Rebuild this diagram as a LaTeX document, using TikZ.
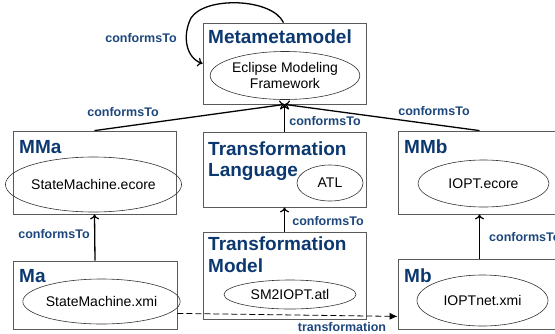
\documentclass[tikz,border=0pt]{standalone}
\usepackage{fontspec}
\setmainfont{Liberation Sans}
\usetikzlibrary{shapes.geometric,arrows.meta}
\definecolor{ttl}{RGB}{12,56,112}
\definecolor{lbl}{RGB}{28,70,124}
\definecolor{edge}{RGB}{90,90,90}
\tikzset{
  box/.style={draw=edge,line width=0.8pt,inner sep=0pt},
  ell/.style={draw=black!80,ellipse,line width=0.6pt,inner sep=0pt,font=\fontsize{14}{16}\selectfont,align=center},
  ttltext/.style={anchor=base west,inner sep=0pt,text=ttl,font=\fontsize{19}{22}\selectfont\bfseries},
  lab/.style={inner sep=0pt,text=lbl,font=\fontsize{12.5}{14}\selectfont\bfseries},
  conf/.style={line width=1.3pt,-{To[length=5pt,width=9pt,line width=1.2pt]}},
  trans/.style={line width=0.8pt,dashed,dash pattern=on 6pt off 3pt,-{Latex[length=8pt,width=7pt]}}
}
\begin{document}
\begin{tikzpicture}[x=1pt,y=-1pt]
\useasboundingbox (0,0) rectangle (555,333);
% boxes
\node[box,minimum width=163pt,minimum height=81pt] (mmm) at (284.5,63.5) {};
\node[box,minimum width=163pt,minimum height=83pt] (mma) at (94.5,172.5) {};
\node[box,minimum width=163pt,minimum height=75pt] (tl) at (284.5,169.5) {};
\node[box,minimum width=163pt,minimum height=83pt] (mmb) at (479.5,172.5) {};
\node[box,minimum width=164pt,minimum height=68pt] (ma) at (95,295) {};
\node[box,minimum width=163pt,minimum height=87pt] (tm) at (284.5,275.5) {};
\node[box,minimum width=163pt,minimum height=70pt] (mb) at (479.5,294) {};
% titles
\node[ttltext] (tmmm) at (208,43) {Metametamodel};
\node[ttltext] (tmma) at (19,153) {MMa};
\node[ttltext] (ttl1) at (208,155) {Transformation};
\node[ttltext] (ttl2) at (208,176) {Language};
\node[ttltext] (tmmb) at (404,153) {MMb};
\node[ttltext] (tma) at (19,282) {Ma};
\node[ttltext] (ttm1) at (208,250) {Transformation};
\node[ttltext] (ttm2) at (208,272) {Model};
\node[ttltext] (tmb) at (404,282) {Mb};
% ellipses
\node[ell,minimum width=140pt,minimum height=48pt] (emf) at (285,75.5) {Eclipse Modeling\\Framework};
\node[ell,minimum width=153pt,minimum height=55pt] (sme) at (93.5,184.5) {StateMachine.ecore};
\node[ell,minimum width=66pt,minimum height=36pt] (atl) at (330,183) {ATL};
\node[ell,minimum width=131pt,minimum height=47pt] (ioe) at (483.5,183.5) {IOPT.ecore};
\node[ell,minimum width=131pt,minimum height=45pt] (smx) at (101.5,301.5) {StateMachine.xmi};
\node[ell,minimum width=132pt,minimum height=29pt] (sma) at (290,294.5) {SM2IOPT.atl};
\node[ell,minimum width=131pt,minimum height=51pt] (iox) at (482.5,300.5) {IOPTnet.xmi};
% connectors
\draw[conf] ([xshift=-1pt]mmm.north) .. controls (272,-2) and (205,-4) .. (191,18) .. controls (182,36) and (186,58) .. (mmm.west);
\draw[conf] (mma.north) -- (mmm.south);
\draw[conf] (tl.north) -- (mmm.south);
\draw[conf] (mmb.north) -- (mmm.south);
\draw[conf] (tm.north) -- (tl.south);
\draw[conf] (ma.north) -- (mma.south);
\draw[conf] (mb.north) -- (mmb.south);
\draw[trans] ([yshift=16pt]ma.south east) -- ([yshift=13pt]mb.south west);
% labels
\node[lab] (l1) at (141,38) {conformsTo};
\node[lab] (l2) at (123,112) {conformsTo};
\node[lab] (l3) at (325,121.5) {conformsTo};
\node[lab] (l4) at (434,111) {conformsTo};
\node[lab] (l5) at (328,221) {conformsTo};
\node[lab] (l6) at (54,234) {conformsTo};
\node[lab,anchor=west] (l7) at (489,237) {conformsTo};
\node[lab] (l8) at (342,327) {transformation};
\end{tikzpicture}
\end{document}
